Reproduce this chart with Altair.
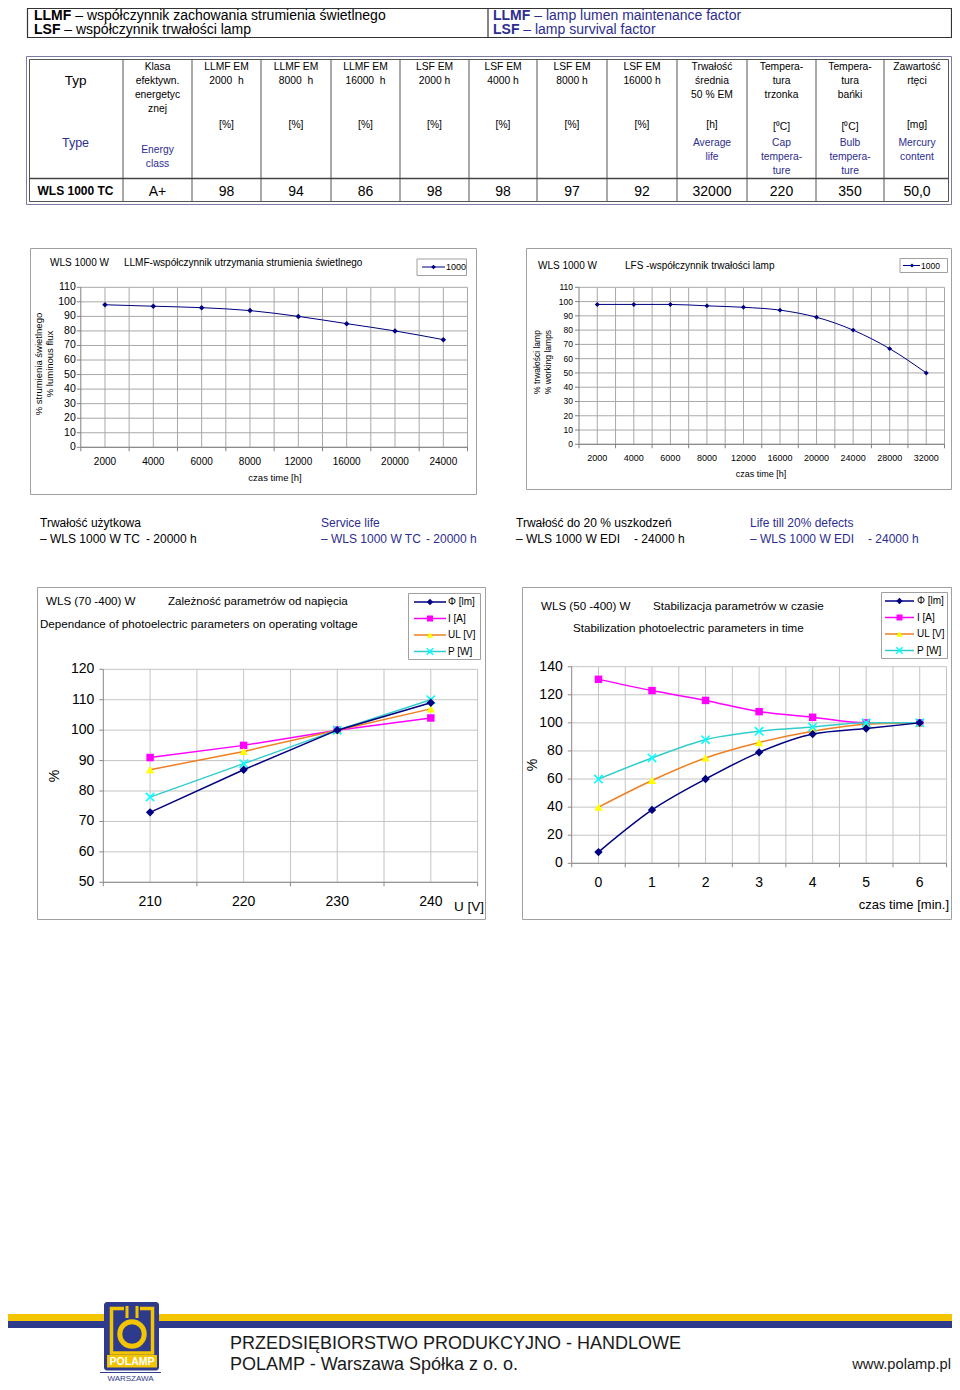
import altair as alt
import pandas as pd

SANS = "Liberation Sans, Arial, Helvetica, sans-serif"
INK = "#000000"
BLUE = "#2d2d8f"
NAVY = "#000080"
MAGENTA = "#ff00ff"
ORANGE = "#f07f20"
YELLOW = "#ffff00"
TEAL = "#33cccc"
CYAN = "#00ffff"
LOGO_BLUE = "#2e3a8c"
LOGO_YELLOW = "#f2c500"
OFF = 8

# ---------------- data ----------------
llmf_hours = ["2000", "4000", "6000", "8000", "12000", "16000", "20000", "24000"]
llmf_values = [98, 97, 96, 94, 90, 85, 80, 74]
lsf_hours = ["2000", "4000", "6000", "8000", "12000", "16000", "20000", "24000", "28000", "32000"]
lsf_values = [98, 98, 98, 97, 96, 94, 89, 80, 67, 50]
llmf_yticks = [0, 10, 20, 30, 40, 50, 60, 70, 80, 90, 100, 110]

voltage = ["210", "220", "230", "240"]
volt_flux = [73, 87, 100, 109]
volt_current = [91, 95, 100, 104]
volt_ul = [87, 93, 100, 107]
volt_power = [78, 89, 100, 110]
volt_yticks = [50, 60, 70, 80, 90, 100, 110, 120]

minutes = ["0", "1", "2", "3", "4", "5", "6"]
time_flux = [8, 38, 60, 79, 92, 96, 100]
time_current = [131, 123, 116, 108, 104, 100, 100]
time_ul = [40, 59, 75, 86, 94, 99, 100]
time_power = [60, 75, 88, 94, 97, 100, 100]
time_yticks = [0, 20, 40, 60, 80, 100, 120, 140]

legend_names = ["Φ [lm]", "I [A]", "UL [V]", "P [W]"]

col_pl = [["Typ"], ["Klasa", "efektywn.", "energetyc", "znej"],
          ["LLMF EM", "2000\u00a0 h"], ["LLMF EM", "8000\u00a0 h"], ["LLMF EM", "16000\u00a0 h"],
          ["LSF EM", "2000 h"], ["LSF EM", "4000 h"], ["LSF EM", "8000 h"], ["LSF EM", "16000 h"],
          ["Trwałość", "średnia", "50 % EM"], ["Tempera-", "tura", "trzonka"],
          ["Tempera-", "tura", "bańki"], ["Zawartość", "rtęci"]]
col_unit = ["", "", "[%]", "[%]", "[%]", "[%]", "[%]", "[%]", "[%]", "[h]", "[\u2070C]", "[\u2070C]", "[mg]"]
col_en = [["Type"], ["Energy", "class"], [], [], [], [], [], [], [],
          ["Average", "life"], ["Cap", "tempera-", "ture"], ["Bulb", "tempera-", "ture"], ["Mercury", "content"]]
row_values = ["WLS 1000 TC", "A+", "98", "94", "86", "98", "98", "97", "92", "32000", "220", "350", "50,0"]

layers = []


def PX(f):
    return alt.X(f"{f}:Q", scale=None, axis=None)


def PY(f):
    return alt.Y(f"{f}:Q", scale=None, axis=None)


def texts(items, size, color=INK, font=SANS, weight="normal", align="left", angle=0):
    df = pd.DataFrame(items, columns=["x", "y", "t"])
    df["x"] = df["x"] - OFF
    df["y"] = df["y"] - OFF
    kw = dict(font=font, fontSize=size, color=color, fontWeight=weight, align=align, baseline="middle")
    if angle:
        kw["angle"] = angle
    layers.append(alt.Chart(df).mark_text(**kw).encode(x=PX("x"), y=PY("y"), text="t:N"))


def boxes(items, fill=None, stroke=None, sw=1.0, radius=0):
    df = pd.DataFrame(items, columns=["x", "y", "x2", "y2"]) - OFF
    kw = {"strokeWidth": sw}
    if fill:
        kw["fill"] = fill
    else:
        kw["fill"] = "#ffffff"
        kw["fillOpacity"] = 0
    if stroke:
        kw["stroke"] = stroke
    if radius:
        kw["cornerRadius"] = radius
    layers.append(alt.Chart(df).mark_rect(**kw).encode(x=PX("x"), y=PY("y"), x2="x2:Q", y2="y2:Q"))


def segs(items, color, sw=1.0):
    df = pd.DataFrame(items, columns=["x", "y", "x2", "y2"]) - OFF
    layers.append(alt.Chart(df).mark_rule(color=color, strokeWidth=sw).encode(
        x=PX("x"), y=PY("y"), x2="x2:Q", y2="y2:Q"))


def marks(items, shape, size, color, filled=True, sw=1.0):
    df = pd.DataFrame(items, columns=["x", "y"]) - OFF
    layers.append(alt.Chart(df).mark_point(shape=shape, size=size, filled=filled, color=color,
                                           strokeWidth=sw, opacity=1).encode(x=PX("x"), y=PY("y")))


def panel(cats, xpx, ydom, yticks, ypx, grid, axis, ylab_size, xlab_size, ylab_dx, xlab_y, tick=4):
    n = len(cats)
    sx = alt.Scale(domain=[-0.5, n - 0.5], range=[xpx[0] - OFF, xpx[1] - OFF], nice=False, zero=False)
    sy = alt.Scale(domain=list(ydom), range=[ypx[0] - OFF, ypx[1] - OFF], nice=False, zero=False)

    def X(f):
        return alt.X(f"{f}:Q", scale=sx, axis=None)

    def Y(f):
        return alt.Y(f"{f}:Q", scale=sy, axis=None)

    lo, hi = ydom
    hg = pd.DataFrame({"a": -0.5, "b": n - 0.5, "v": yticks})
    layers.append(alt.Chart(hg).mark_rule(color=grid, strokeWidth=1).encode(x=X("a"), x2="b:Q", y=Y("v")))
    vg = pd.DataFrame({"u": [k * 0.5 - 0.5 for k in range(1, 2 * n + 1)], "lo": lo, "hi": hi})
    layers.append(alt.Chart(vg).mark_rule(color=grid, strokeWidth=1).encode(x=X("u"), y=Y("lo"), y2="hi:Q"))
    ax = pd.DataFrame({"a": [-0.5, -0.5], "b": [-0.5, n - 0.5], "v1": [lo, lo], "v2": [hi, lo]})
    layers.append(alt.Chart(ax).mark_rule(color=axis, strokeWidth=1).encode(
        x=X("a"), x2="b:Q", y=Y("v1"), y2="v2:Q"))
    layers.append(alt.Chart(pd.DataFrame({"a": -0.5, "v": yticks})).mark_tick(
        orient="horizontal", size=tick, thickness=1, color=axis, xOffset=-tick / 2, opacity=1).encode(
        x=X("a"), y=Y("v")))
    layers.append(alt.Chart(pd.DataFrame({"u": [k - 0.5 for k in range(n + 1)], "lo": lo})).mark_tick(
        orient="vertical", size=tick, thickness=1, color=axis, yOffset=tick / 2, opacity=1).encode(
        x=X("u"), y=Y("lo")))
    yl = pd.DataFrame({"a": -0.5, "v": yticks, "t": [str(v) for v in yticks]})
    layers.append(alt.Chart(yl).mark_text(align="right", baseline="middle", dx=ylab_dx, font=SANS,
                                          fontSize=ylab_size, color=INK).encode(x=X("a"), y=Y("v"), text="t:N"))
    xl = pd.DataFrame({"i": list(range(n)), "t": cats})
    layers.append(alt.Chart(xl).mark_text(align="center", baseline="middle", font=SANS,
                                          fontSize=xlab_size, color=INK).encode(
        x=X("i"), y=alt.value(xlab_y - OFF), text="t:N"))
    return X, Y


def series(X, Y, vals, line_color, sw, shape, size, mcolor, filled=True, msw=1.0, interp="linear"):
    df = pd.DataFrame({"i": list(range(len(vals))), "v": vals})
    layers.append(alt.Chart(df).mark_line(color=line_color, strokeWidth=sw, interpolate=interp).encode(
        x=X("i"), y=Y("v")))
    layers.append(alt.Chart(df).mark_point(shape=shape, size=size, filled=filled, color=mcolor,
                                           strokeWidth=msw, opacity=1).encode(x=X("i"), y=Y("v")))


XSHAPE = "M-1,-1L1,1M-1,1L1,-1"
RIGHT = 951.5

# ---------------- header box ----------------
boxes([(27.5, 8.5, RIGHT, 37.5)], stroke="#333333", sw=1.2)
segs([(488, 8.5, 488, 37.5)], "#333333", 1.2)
texts([(34, 16, "LLMF"), (34, 30, "LSF")], 14, weight="bold")
texts([(75.2, 16, "– współczynnik zachowania strumienia świetlnego"),
       (64.3, 30, "– współczynnik trwałości lamp")], 14)
texts([(493, 16, "LLMF"), (493, 30, "LSF")], 14, BLUE, weight="bold")
texts([(534.2, 16, "– lamp lumen maintenance factor"), (523.3, 30, "– lamp survival factor")], 14, BLUE)

# ---------------- table ----------------
bounds = [28, 123, 192, 261, 331, 400, 469, 537, 607, 677, 747, 816, 884, 950]
centers = [(bounds[i] + bounds[i + 1]) / 2 for i in range(len(bounds) - 1)]
boxes([(26.5, 56.5, RIGHT, 204.5)], stroke="#7b7ba8", sw=1)
boxes([(29.5, 59.5, RIGHT - 3, 201.5)], stroke="#555555", sw=1)
segs([(b, 59.5, b, 201.5) for b in bounds[1:-1]], "#555555", 1)
segs([(29.5, 178.5, RIGHT - 3, 178.5)], "#444444", 1.5)

pl_items, en_items, unit_items = [], [], []
for c, cx in enumerate(centers):
    y0 = 81 if c == 0 else 67
    for k, s in enumerate(col_pl[c]):
        pl_items.append((cx, y0 + 14 * k, s))
    if col_unit[c]:
        unit_items.append((cx, 127 if "C" in col_unit[c] else 125, col_unit[c]))
    e0 = 150 if c == 1 else 143
    for k, s in enumerate(col_en[c]):
        en_items.append((cx, e0 + 14 * k, s))
texts([it for it in pl_items if it[2] != "Typ"], 10.3, INK, align="center")
texts([it for it in pl_items if it[2] == "Typ"], 13.5, INK, align="center")
texts(unit_items, 10.3, INK, align="center")
texts([it for it in en_items if it[2] != "Type"], 10.3, BLUE, align="center")
texts([it for it in en_items if it[2] == "Type"], 12.5, BLUE, align="center")
texts([(centers[0], 191, row_values[0])], 12, INK, weight="bold", align="center")
texts([(centers[i], 191.5, row_values[i]) for i in range(1, len(row_values))], 14, INK, align="center")

# ---------------- chart 1 : LLMF ----------------
boxes([(30.5, 248.5, 476.5, 494.5)], fill="#ffffff", stroke="#a0a0a0")
X1, Y1 = panel(llmf_hours, (80.8, 467.5), (0, 110), llmf_yticks, (447.3, 287.3),
               "#a8a8a8", "#808080", 10.5, 10, -5, 462)
series(X1, Y1, llmf_values, NAVY, 1, "diamond", 30, NAVY, interp="monotone")
texts([(50, 263, "WLS 1000 W"), (124, 263, "LLMF-współczynnik utrzymania strumienia świetlnego")], 10)
boxes([(417, 259, 466.5, 275.5)], fill="#ffffff", stroke="#a0a0a0")
segs([(422, 267, 445, 267)], NAVY, 1)
marks([(433.5, 267)], "diamond", 22, NAVY)
texts([(446, 267, "1000")], 9)
texts([(39, 364, "% strumienia świetlnego"), (50, 364, "% luminous flux")], 9.5, align="center", angle=270)
texts([(275, 478, "czas time [h]")], 9.5, align="center")

# ---------------- chart 2 : LSF ----------------
boxes([(526.5, 248.5, RIGHT, 489.5)], fill="#ffffff", stroke="#a0a0a0")
X2, Y2 = panel(lsf_hours, (579, 944.5), (0, 110), llmf_yticks, (444.3, 287.3),
               "#a8a8a8", "#808080", 8.5, 9, -6, 458)
series(X2, Y2, lsf_values, NAVY, 1, "diamond", 24, NAVY, interp="monotone")
texts([(538, 266, "WLS 1000 W"), (625, 266, "LFS -współczynnik trwałości lamp")], 10)
boxes([(900, 258.5, 947.5, 272.5)], fill="#ffffff", stroke="#a0a0a0")
segs([(903, 265.5, 920, 265.5)], NAVY, 1)
marks([(912, 265.5)], "diamond", 18, NAVY)
texts([(921, 265.5, "1000")], 8.5)
texts([(537, 362, "% trwałości lamp"), (548, 362, "% working lamps")], 8.5, align="center", angle=270)
texts([(761, 474, "czas time [h]")], 9, align="center")

# ---------------- service life text ----------------
texts([(40, 523, "Trwałość użytkowa"), (40, 539, "– WLS 1000 W TC"), (146, 539, "- 20000 h"),
       (516, 523, "Trwałość do 20 % uszkodzeń"), (516, 539, "– WLS 1000 W EDI"), (634, 539, "- 24000 h")],
      12, INK)
texts([(321, 523, "Service life"), (321, 539, "– WLS 1000 W TC"), (426, 539, "- 20000 h"),
       (750, 523, "Life till 20% defects"), (750, 539, "– WLS 1000 W EDI"), (868, 539, "- 24000 h")],
      12, BLUE)

# ---------------- chart 3 : voltage ----------------
boxes([(37.5, 587.5, 485.5, 919.5)], fill="#ffffff", stroke="#a0a0a0")
X3, Y3 = panel(voltage, (103.3, 477.6), (50, 120), volt_yticks, (882.3, 669.3),
               "#c4c4c4", "#888888", 14, 14, -9, 902)
series(X3, Y3, volt_current, MAGENTA, 1.5, "square", 56, MAGENTA)
series(X3, Y3, volt_ul, ORANGE, 1.5, "triangle-up", 70, YELLOW)
series(X3, Y3, volt_power, TEAL, 1.5, XSHAPE, 70, CYAN, filled=False, msw=1.6)
series(X3, Y3, volt_flux, NAVY, 1.5, "diamond", 70, NAVY)
texts([(46, 602, "WLS (70 -400) W"), (168, 602, "Zależność parametrów od napięcia"),
       (40, 625, "Dependance of photoelectric parameters on operating voltage")], 11.6, INK)
texts([(55, 776, "%")], 14, align="center", angle=270)
texts([(454, 907, "U [V]")], 13.5, INK)
boxes([(408.5, 593.5, 480.5, 659.5)], fill="#ffffff", stroke="#a0a0a0")
leg3_y = [602, 618.5, 635, 651.5]
segs([(414, leg3_y[0], 446, leg3_y[0])], NAVY, 1.5)
segs([(414, leg3_y[1], 446, leg3_y[1])], MAGENTA, 1.5)
segs([(414, leg3_y[2], 446, leg3_y[2])], ORANGE, 1.5)
segs([(414, leg3_y[3], 446, leg3_y[3])], TEAL, 1.5)
marks([(430, leg3_y[0])], "diamond", 40, NAVY)
marks([(430, leg3_y[1])], "square", 36, MAGENTA)
marks([(430, leg3_y[2])], "triangle-up", 44, YELLOW)
marks([(430, leg3_y[3])], XSHAPE, 40, CYAN, filled=False, sw=1.5)
texts([(448, y, s) for y, s in zip(leg3_y, legend_names)], 10)

# ---------------- chart 4 : time ----------------
boxes([(522.5, 587.5, RIGHT, 919.5)], fill="#ffffff", stroke="#a0a0a0")
X4, Y4 = panel(minutes, (571.7, 946.5), (0, 140), time_yticks, (863.3, 666.7),
               "#c4c4c4", "#888888", 14, 14, -9, 883)
series(X4, Y4, time_current, MAGENTA, 1.5, "square", 56, MAGENTA, interp="monotone")
series(X4, Y4, time_ul, ORANGE, 1.5, "triangle-up", 70, YELLOW, interp="monotone")
series(X4, Y4, time_power, TEAL, 1.5, XSHAPE, 70, CYAN, filled=False, msw=1.6, interp="monotone")
series(X4, Y4, time_flux, NAVY, 1.5, "diamond", 70, NAVY, interp="monotone")
texts([(541, 607, "WLS (50 -400) W"), (653, 607, "Stabilizacja parametrów w czasie"),
       (573, 629, "Stabilization photoelectric parameters in time")], 11.6, INK)
texts([(533, 765, "%")], 14, align="center", angle=270)
texts([(949, 905, "czas time [min.]")], 13, INK, align="right")
boxes([(881.5, 592.5, 947.5, 658.5)], fill="#ffffff", stroke="#a0a0a0")
leg4_y = [601, 617.5, 634, 650.5]
segs([(885, leg4_y[0], 914, leg4_y[0])], NAVY, 1.5)
segs([(885, leg4_y[1], 914, leg4_y[1])], MAGENTA, 1.5)
segs([(885, leg4_y[2], 914, leg4_y[2])], ORANGE, 1.5)
segs([(885, leg4_y[3], 914, leg4_y[3])], TEAL, 1.5)
marks([(899.5, leg4_y[0])], "diamond", 40, NAVY)
marks([(899.5, leg4_y[1])], "square", 36, MAGENTA)
marks([(899.5, leg4_y[2])], "triangle-up", 44, YELLOW)
marks([(899.5, leg4_y[3])], XSHAPE, 40, CYAN, filled=False, sw=1.5)
texts([(917, y, s) for y, s in zip(leg4_y, legend_names)], 10)

# ---------------- footer ----------------
boxes([(8, 1314, 952, 1321)], fill=LOGO_YELLOW)
boxes([(8, 1321, 952, 1328)], fill=LOGO_BLUE)
boxes([(104, 1302, 159, 1370.5)], fill=LOGO_BLUE, radius=3)
boxes([(111.5, 1308.5, 152.5, 1353)], stroke=LOGO_YELLOW, sw=3.5)
boxes([(124, 1305, 140, 1312)], fill=LOGO_BLUE)
boxes([(125.5, 1306, 128.5, 1318)], fill=LOGO_YELLOW)
boxes([(135.5, 1306, 138.5, 1318)], fill=LOGO_YELLOW)
marks([(132, 1334)], "circle", 600, LOGO_YELLOW, filled=False, sw=5)
boxes([(107, 1355, 157, 1367.5)], fill=LOGO_YELLOW)
texts([(132, 1361.5, "POLAMP")], 10.5, "#ffffff", weight="bold", align="center")
segs([(100, 1372.5, 161, 1372.5), (100, 1384, 161, 1384)], LOGO_BLUE, 1.2)
texts([(130.5, 1378.5, "WARSZAWA")], 8, LOGO_BLUE, align="center")
texts([(230, 1344, "PRZEDSIĘBIORSTWO PRODUKCYJNO - HANDLOWE"),
       (230, 1364.5, "POLAMP - Warszawa Spółka z o. o.")], 18, "#1a1a1a")
texts([(951, 1365, "www.polamp.pl")], 14.7, "#1a1a1a", align="right")

chart = alt.layer(*layers).properties(
    width=944, height=1374, padding=0,
    autosize=alt.AutoSizeParams(type="none"), background="#ffffff"
).resolve_scale(x="independent", y="independent").configure_view(stroke=None)

chart.save("out.html", embed_options={"renderer": "svg", "actions": False})
